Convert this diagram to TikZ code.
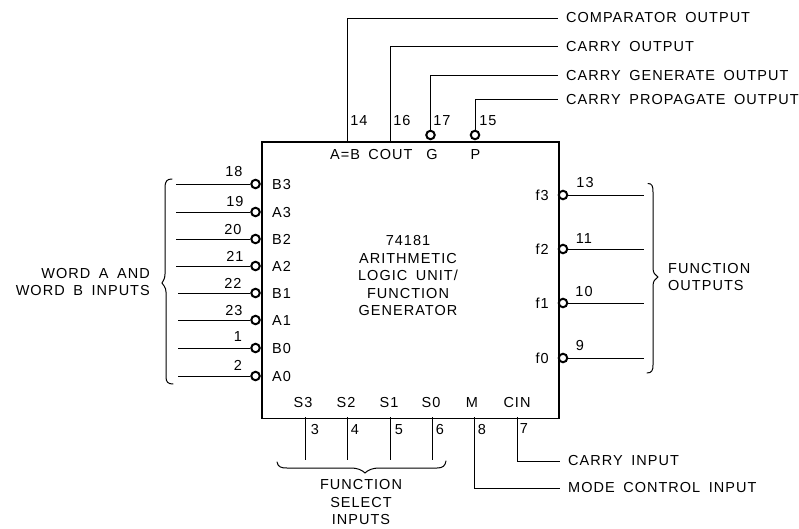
\documentclass[tikz,border=0pt]{standalone}
\usepackage{fontspec}
\setmainfont[LetterSpace=7,WordSpace=1.7]{Liberation Sans}
\begin{document}
\begin{tikzpicture}[x=1pt,y=-1pt,
  wire/.style={line width=0.95pt,black},
  chip/.style={draw,line width=1.9pt,rectangle,minimum width=297pt,minimum height=276pt,inner sep=0pt,anchor=north west},
  bubble/.style={circle,draw,line width=2pt,fill=white,minimum size=8.5pt,inner sep=0pt},
  txt/.style={font=\fontsize{14.5}{17.5}\selectfont,inner sep=0pt,text=black},
  lab/.style={txt,anchor=west,inner xsep=8pt},
  brace/.style={line width=1pt,line cap=round}]
\useasboundingbox (0,0) rectangle (799,529);
\node[chip] (ic) at (261,141.5) {};
% top
\coordinate (t14) at (347,141);\coordinate (t16) at (390,141);
\node[bubble] (bG) at (430.5,135) {};
\node[bubble] (bP) at (475,135) {};
\node[lab] (lcmp) at (558,18) {COMPARATOR OUTPUT};
\node[lab] (lcar) at (558,46.5) {CARRY OUTPUT};
\node[lab] (lgen) at (558,75.5) {CARRY GENERATE OUTPUT};
\node[lab] (lprp) at (558,99.5) {CARRY PROPAGATE OUTPUT};
\draw[wire] (t14) |- (lcmp.west);
\draw[wire] (t16) |- (lcar.west);
\draw[wire] (bG) |- (lgen.west);
\draw[wire] (bP) |- (lprp.west);
\node[txt] (n14) at (359,120.5) {14};
\node[txt] (n16) at (402,120.5) {16};
\node[txt] (n17) at (442,120.5) {17};
\node[txt] (n15) at (488,120.5) {15};
\node[txt] (pAB) at (345,155) {A=B};
\node[txt] (pCO) at (390.5,155) {COUT};
\node[txt] (pG) at (432,155) {G};
\node[txt] (pP) at (475.5,155) {P};
% left
\foreach \n/\p/\y/\ox/\oy/\sx in {18/B3/184/234/172/176,19/A3/212/235/202/176,20/B2/239/233/230/176,21/A2/266/235/256/176,22/B1/293/233/283/178,23/A1/320/234/311/178,1/B0/348/238/337/178,2/A0/376/238/365/178}{
  \node[bubble] (b\p) at (255.5,\y) {};
  \coordinate (e\p) at (\sx,\y);
  \draw[wire] (e\p) -- (b\p);
  \node[txt] (n\n) at (\ox,\oy) {\n};
  \node[txt,anchor=west] (p\p) at (272,\y+0.5) {\p};
}
\node[txt,anchor=north east,align=right] (lw) at (150,268) {WORD A AND\\WORD B INPUTS};
\coordinate (brL) at (162,283);
\draw[brace] (172,179) .. controls (167,179) and (165,181) .. (165,188) -- (165,274) .. controls (165,279) and (163,281) .. (brL) .. controls (163,285) and (166,287) .. (166,292) -- (166,377) .. controls (166,382) and (168,384) .. (173,384);
% right
\foreach \n/\p/\y/\ox/\oy in {13/f3/195/585/183,11/f2/249/584/239,10/f1/303/584/292,9/f0/358/580/346}{
  \node[bubble] (b\p) at (563,\y) {};
  \coordinate (e\p) at (644,\y);
  \draw[wire] (b\p) -- (e\p);
  \node[txt] (n\n) at (\ox,\oy) {\n};
  \node[txt,anchor=east] (p\p) at (549,\y) {\p};
}
\coordinate (brR) at (658,277);
\draw[brace] (648,183.5) .. controls (652,183.5) and (653,186) .. (653,192) -- (653,268) .. controls (653,273) and (655,275) .. (brR) .. controls (655,279) and (653,281) .. (653,286) -- (653,365) .. controls (653,370) and (652,373) .. (647,373);
\node[txt,anchor=north west,align=left] (lf) at (668,263) {FUNCTION\\OUTPUTS};
% centre
\node[txt,align=center] (title) at (408,276) {74181\\ARITHMETIC\\LOGIC UNIT/\\FUNCTION\\GENERATOR};
% bottom
\foreach \p/\x/\n/\nx/\w in {S3/303/3/315/305,S2/346/4/355/347,S1/389/5/399/390,S0/431/6/440/432}{
  \node[txt] (p\p) at (\x,403) {\p};
  \coordinate (c\p) at (\w,417);
  \coordinate (e\p) at (\w,460);
  \draw[wire] (c\p) -- (e\p);
  \node[txt] (n\n) at (\nx,430) {\n};
}
\node[txt] (pM) at (472,402.5) {M};
\node[txt] (pCIN) at (517,402.5) {CIN};
\node[txt] (n8) at (482,430) {8};
\node[txt] (n7) at (524,429) {7};
\coordinate (cM) at (474,417);
\coordinate (cC) at (517,417);
\node[lab] (lci) at (560,461) {CARRY INPUT};
\node[lab] (lmc) at (560,488) {MODE CONTROL INPUT};
\draw[wire] (cC) |- (lci.west);
\draw[wire] (cM) |- (lmc.west);
\coordinate (brB) at (365,473);
\draw[brace] (277,462) .. controls (278,467) and (281,468) .. (287,468) -- (350,468) .. controls (358,468) and (362,470) .. (brB) .. controls (368,470) and (372,468) .. (380,468) -- (437,468) .. controls (443,468) and (445,466) .. (446,461);
\node[txt,align=center] (lfs) at (361,502.5) {FUNCTION\\SELECT\\INPUTS};
\end{tikzpicture}
\end{document}
